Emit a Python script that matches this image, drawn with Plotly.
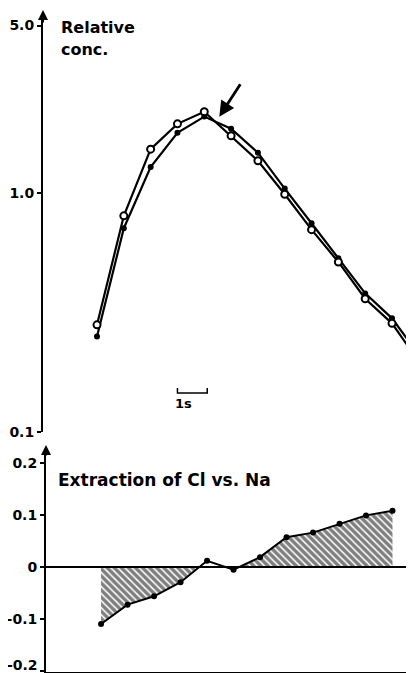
import plotly.graph_objects as go

# ---- data ----
time_s = [0.0, 0.9, 1.8, 2.7, 3.6, 4.5, 5.4, 6.3, 7.2, 8.1, 9.0, 9.9, 10.8]
conc_open = [0.28, 0.80, 1.52, 1.94, 2.18, 1.73, 1.36, 0.985, 0.70, 0.513, 0.36, 0.284, 0.196]
conc_filled = [0.25, 0.71, 1.28, 1.78, 2.08, 1.85, 1.47, 1.04, 0.745, 0.532, 0.379, 0.298, 0.21]
extraction_diff = [-0.109, -0.072, -0.056, -0.029, 0.012, -0.005, 0.019, 0.057, 0.066, 0.083, 0.099, 0.108]
top_tickvals = [0.1, 1.0, 5.0]
top_ticktext = ["0.1", "1.0", "5.0"]
bot_tickvals = [-0.2, -0.1, 0, 0.1, 0.2]
bot_ticktext = ["", "-0.1", "0", "0.1", "0.2"]
bottom_edge_label = "-0.2"

# page body has an 8 px margin: the figure is sized to fill the rest of the window
OFF = 8
W, H = 414 - OFF, 673 - OFF
FONT = "DejaVu Sans"


def px(x):
    return (x - OFF) / W


def py(y):
    return 1 - (y - OFF) / H


fig = go.Figure()

# top panel
fig.add_trace(go.Scatter(
    x=time_s, y=conc_filled, mode="lines+markers", xaxis="x", yaxis="y",
    line=dict(color="black", width=2.2),
    marker=dict(symbol="circle", size=6, color="black"),
))
fig.add_trace(go.Scatter(
    x=time_s, y=conc_open, mode="lines+markers", xaxis="x", yaxis="y",
    line=dict(color="black", width=2.2),
    marker=dict(symbol="circle", size=7, color="white", line=dict(color="black", width=2)),
))

# bottom panel: hatched regions between curve and zero
t_b = time_s[:len(extraction_diff)]


def crossing(i):
    # zero crossing between point i and i+1 (from the data)
    y0, y1 = extraction_diff[i], extraction_diff[i + 1]
    return t_b[i] + (t_b[i + 1] - t_b[i]) * (-y0) / (y1 - y0)


c1 = crossing(3)
c2 = crossing(5)
neg_x = t_b[0:4] + [c1]
neg_y = extraction_diff[0:4] + [0]
pos_x = [c2] + t_b[6:]
pos_y = [0] + extraction_diff[6:]
for xs, ys in ((neg_x, neg_y), (pos_x, pos_y)):
    fig.add_trace(go.Scatter(
        x=xs, y=ys, mode="lines", xaxis="x2", yaxis="y2",
        line=dict(width=0, color="rgba(0,0,0,0)"),
        fill="tozeroy", fillcolor="rgba(0,0,0,0)",
        fillpattern=dict(shape="\\", fgcolor="black", bgcolor="rgba(0,0,0,0)",
                         size=5, solidity=0.7),
        hoverinfo="skip",
    ))
fig.add_trace(go.Scatter(
    x=t_b, y=extraction_diff, mode="lines+markers", xaxis="x2", yaxis="y2",
    line=dict(color="black", width=2),
    marker=dict(symbol="circle", size=6, color="black"),
))

tickfont = dict(family=FONT, size=14, color="black", weight="bold")

fig.update_layout(
    width=W, height=H,
    margin=dict(l=0, r=0, t=0, b=0, pad=0),
    paper_bgcolor="white", plot_bgcolor="white",
    showlegend=False,
    xaxis=dict(domain=[px(43), 1], range=[-1.812, 10.638], visible=False, anchor="y",
               automargin=False),
    yaxis=dict(domain=[py(431.7), py(16)], type="log", range=[-1, 0.739], anchor="x",
               automargin=False,
               showline=True, linewidth=2, linecolor="black", showgrid=False, zeroline=False,
               ticks="outside", ticklen=4, tickwidth=1.5, tickcolor="black",
               tickvals=top_tickvals, ticktext=top_ticktext, tickfont=tickfont),
    xaxis2=dict(domain=[px(46), 1], range=[-1.87, 10.63], anchor="y2", automargin=False,
                showline=True, linewidth=2, linecolor="black", showgrid=False,
                zeroline=False, showticklabels=False, ticks=""),
    yaxis2=dict(domain=[py(671.7), py(450)], range=[-0.2005, 0.2243], anchor="x2",
                automargin=False,
                showline=True, linewidth=2, linecolor="black", showgrid=False,
                zeroline=True, zerolinecolor="black", zerolinewidth=1.5,
                ticks="outside", ticklen=4, tickwidth=1.5, tickcolor="black",
                tickvals=bot_tickvals, ticktext=bot_ticktext, tickfont=tickfont),
)

lab = dict(family=FONT, size=16, color="black", weight="bold")
annotations = [
    dict(x=px(59), y=py(27), xref="paper", yref="paper", text="Relative",
         showarrow=False, xanchor="left", yanchor="middle", font=lab),
    dict(x=px(59), y=py(50), xref="paper", yref="paper", text="conc.",
         showarrow=False, xanchor="left", yanchor="middle", font=lab),
    dict(x=px(56), y=py(480), xref="paper", yref="paper", text="Extraction of Cl vs. Na",
         showarrow=False, xanchor="left", yanchor="middle",
         font=dict(family=FONT, size=17, color="black", weight="bold")),
    dict(x=px(173), y=py(403), xref="paper", yref="paper", text="1s",
         showarrow=False, xanchor="left", yanchor="middle",
         font=dict(family=FONT, size=13, color="black", weight="bold")),
    dict(x=px(40), y=py(665), xref="paper", yref="paper", text=bottom_edge_label,
         showarrow=False, xanchor="right", yanchor="middle", font=tickfont),
    # pointer arrow near peak
    dict(x=px(219.3), y=py(116.7), xref="paper", yref="paper", text="",
         showarrow=True, ax=22, ay=-34, arrowhead=2, arrowsize=1.1, arrowwidth=2.8,
         arrowcolor="black", standoff=0),
    # axis arrowheads
    dict(x=px(43), y=py(10), xref="paper", yref="paper", text="", showarrow=True,
         ax=0, ay=14, arrowhead=2, arrowsize=1, arrowwidth=2, arrowcolor="black", standoff=0),
    dict(x=px(46), y=py(445), xref="paper", yref="paper", text="", showarrow=True,
         ax=0, ay=12, arrowhead=2, arrowsize=1, arrowwidth=2, arrowcolor="black", standoff=0),
]
fig.update_layout(annotations=annotations)

# 1 s scale bar (in data x units of the top panel)
fig.add_shape(type="path", xref="x", yref="paper",
              path=f"M 2.7 {py(388)} L 2.7 {py(393)} L 3.7 {py(393)} L 3.7 {py(388)}",
              line=dict(color="black", width=1.5))

fig.write_html("out.html")
